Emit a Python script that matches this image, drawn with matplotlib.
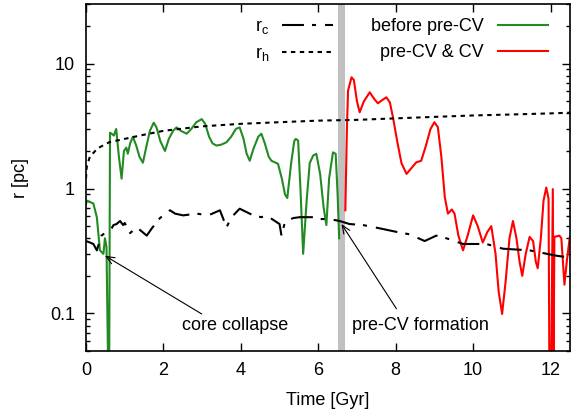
import matplotlib
matplotlib.use("Agg")
import matplotlib.pyplot as plt
from matplotlib.ticker import FixedLocator, FuncFormatter

plt.rcParams["font.family"] = ["Liberation Sans", "DejaVu Sans"]
plt.rcParams["mathtext.default"] = "regular"
plt.rcParams["lines.scale_dashes"] = False

# half-mass radius r_h
rh_t = [0.0, 0.02, 0.1, 0.3, 0.6, 1.0, 1.5, 2.0, 3.0, 4.0, 5.0, 6.0, 7.0, 8.0, 9.0, 10.0, 11.0, 12.0, 12.5]
rh_r = [1.2, 1.5, 1.8, 2.1, 2.35, 2.5, 2.7, 2.9, 3.15, 3.3, 3.4, 3.5, 3.55, 3.65, 3.75, 3.85, 3.92, 4.0, 4.05]

# core radius r_c
rc_t = [0.0, 0.1, 0.19, 0.28, 0.40, 0.53, 0.66, 0.71, 0.79, 0.88, 0.96, 1.0, 1.14, 1.31, 1.57,
        1.70, 1.91, 2.17, 2.30, 2.51, 2.86, 3.16, 3.46, 3.63, 3.76, 3.97, 4.32, 4.53, 4.66,
        5.0, 5.05, 5.14, 5.35, 5.52, 5.87, 6.04, 6.3, 6.55, 6.81, 7.16, 7.59, 8.02, 8.36,
        8.75, 9.05, 9.31, 9.74, 10.34, 10.77, 11.46, 12.15, 12.5]
rc_r = [0.38, 0.37, 0.36, 0.32, 0.42, 0.45, 0.48, 0.51, 0.52, 0.55, 0.51, 0.53, 0.44, 0.49, 0.42,
        0.48, 0.58, 0.67, 0.63, 0.61, 0.63, 0.61, 0.67, 0.49, 0.59, 0.69, 0.61, 0.59, 0.61,
        0.52, 0.42, 0.54, 0.58, 0.59, 0.59, 0.57, 0.57, 0.55, 0.52, 0.51, 0.48, 0.45, 0.43,
        0.38, 0.42, 0.40, 0.36, 0.36, 0.33, 0.32, 0.29, 0.28]

# r before pre-CV formation
pre_t = [0.0, 0.02, 0.10, 0.19, 0.28, 0.36, 0.45, 0.49, 0.53, 0.57, 0.60, 0.62, 0.66, 0.72,
         0.78, 0.85, 0.92, 0.98, 1.04, 1.08, 1.14, 1.21, 1.30, 1.38, 1.47, 1.55, 1.65, 1.75,
         1.82, 1.92, 2.04, 2.14, 2.25, 2.34, 2.45, 2.60, 2.72, 2.85, 2.99, 3.08, 3.18, 3.27,
         3.37, 3.50, 3.63, 3.75, 3.87, 3.97, 4.07, 4.15, 4.23, 4.33, 4.45, 4.53, 4.62, 4.72,
         4.79, 4.96, 5.06, 5.14, 5.20, 5.30, 5.38, 5.42, 5.48, 5.54, 5.61, 5.70, 5.78, 5.87,
         5.95, 6.05, 6.14, 6.21, 6.28, 6.38, 6.45, 6.50, 6.54]
pre_r = [0.75, 0.80, 0.78, 0.76, 0.59, 0.32, 0.30, 0.40, 0.34, 0.04, 0.04, 2.8, 2.75, 2.66,
         3.0, 1.8, 1.2, 2.0, 2.13, 1.9, 2.3, 2.6, 2.2, 1.8, 1.61, 2.1, 2.9, 3.37,
         3.1, 2.4, 2.0, 2.5, 2.9, 3.09, 2.9, 2.75, 3.0, 3.4, 3.6, 3.3, 2.6, 2.3,
         2.21, 2.25, 2.35, 2.6, 3.0, 3.09, 2.5, 1.9, 1.67, 2.1, 2.6, 2.75, 2.3, 1.8,
         1.67, 1.58, 1.2, 0.9, 0.84, 1.6, 2.4, 2.5, 2.42, 1.0, 0.30, 0.8, 1.6, 1.84,
         1.9, 1.3, 0.7, 0.51, 1.2, 1.95, 1.9, 0.9, 0.40]

# r with pre-CV & CV
cv_t = [6.70, 6.74, 6.77, 6.86, 6.92, 7.0, 7.07, 7.18, 7.33, 7.45, 7.54, 7.65, 7.76, 7.85,
        7.93, 8.05, 8.15, 8.28, 8.40, 8.53, 8.66, 8.78, 8.90, 9.0, 9.09, 9.18, 9.27, 9.35,
        9.45, 9.52, 9.62, 9.74, 9.86, 10.0, 10.12, 10.25, 10.37, 10.47, 10.58, 10.66, 10.75,
        10.84, 10.94, 11.03, 11.12, 11.20, 11.27, 11.36, 11.46, 11.55, 11.62, 11.67, 11.75,
        11.82, 11.89, 11.95, 11.97, 12.02, 12.06, 12.08, 12.10, 12.23, 12.28, 12.36, 12.42, 12.5]
cv_r = [0.67, 3.0, 6.1, 7.78, 7.4, 5.0, 4.08, 5.0, 5.9, 5.2, 4.82, 5.1, 5.38, 4.9,
        3.72, 2.3, 1.6, 1.31, 1.45, 1.62, 1.67, 2.2, 3.0, 3.4, 3.1, 1.8, 0.85, 0.63,
        0.68, 0.63, 0.42, 0.32, 0.42, 0.61, 0.50, 0.37, 0.45, 0.50, 0.30, 0.15, 0.099,
        0.18, 0.40, 0.55, 0.40, 0.26, 0.20, 0.30, 0.41, 0.38, 0.26, 0.23, 0.40,
        0.80, 1.02, 0.83, 0.04, 0.04, 0.99, 0.04, 0.41, 0.42, 0.40, 0.17, 0.26, 0.41]

FS = 13

fig = plt.figure(figsize=(5.71, 4.12), dpi=100)
ax = fig.add_axes([0.1506, 0.148, 0.8474, 0.842])

ax.axvspan(6.52, 6.69, color="#c0c0c0", lw=0, zorder=1)

ln_rc, = ax.plot(rc_t, rc_r, color="black", lw=1.5, dashes=(15.8, 5.8, 2.9, 6.5), zorder=3)
ln_rh, = ax.plot(rh_t, rh_r, color="black", lw=1.5, dashes=(3.2, 3.2), zorder=3)
ln_pre, = ax.plot(pre_t, pre_r, color="#228b22", lw=1.5, zorder=2)
ln_cv, = ax.plot(cv_t, cv_r, color="#ff0000", lw=1.5, zorder=2)

ax.set_yscale("log")
ax.set_xlim(0, 12.5)
ax.set_ylim(0.05, 30)
ax.xaxis.set_major_locator(FixedLocator([0, 2, 4, 6, 8, 10, 12]))
ax.yaxis.set_major_locator(FixedLocator([0.1, 1, 10]))
ax.yaxis.set_major_formatter(FuncFormatter(lambda v, p: f"{v:g}"))
ax.tick_params(which="both", direction="in", top=True, right=True, labelsize=FS, width=1)
ax.tick_params(which="major", length=6, pad=8)
ax.tick_params(which="minor", length=3)
for s in ax.spines.values():
    s.set_linewidth(1.2)

ax.set_xlabel("Time [Gyr]", fontsize=FS, labelpad=9)
ax.set_ylabel("r [pc]", fontsize=FS, labelpad=15)

arrow = dict(arrowstyle="->,head_length=0.6,head_width=0.25", color="black", lw=0.8,
             shrinkA=0, shrinkB=0)
ax.annotate("", xy=(0.49, 0.29), xytext=(2.99, 0.099), arrowprops=arrow)
ax.text(3.86, 0.080, "core collapse", fontsize=FS, ha="center", va="center")
ax.annotate("", xy=(6.6, 0.52), xytext=(8.02, 0.109), arrowprops=arrow)
ax.text(8.65, 0.080, "pre-CV formation", fontsize=FS, ha="center", va="center")

leg1 = ax.legend([ln_rc, ln_rh], ["r$_{c}$", "r$_{h}$"], loc="upper right",
                 bbox_to_anchor=(0.510, 0.959), frameon=False, markerfirst=False,
                 fontsize=FS, handlelength=2.8, handletextpad=0.7, labelspacing=0.5,
                 borderpad=0, borderaxespad=0)
ax.add_artist(leg1)
ax.legend([ln_pre, ln_cv], ["before pre-CV", "pre-CV & CV"], loc="upper right",
          bbox_to_anchor=(0.955, 0.959), frameon=False, markerfirst=False,
          fontsize=FS, handlelength=2.8, handletextpad=0.75, labelspacing=0.5,
          borderpad=0, borderaxespad=0)

fig.savefig("out.png", dpi=100)
